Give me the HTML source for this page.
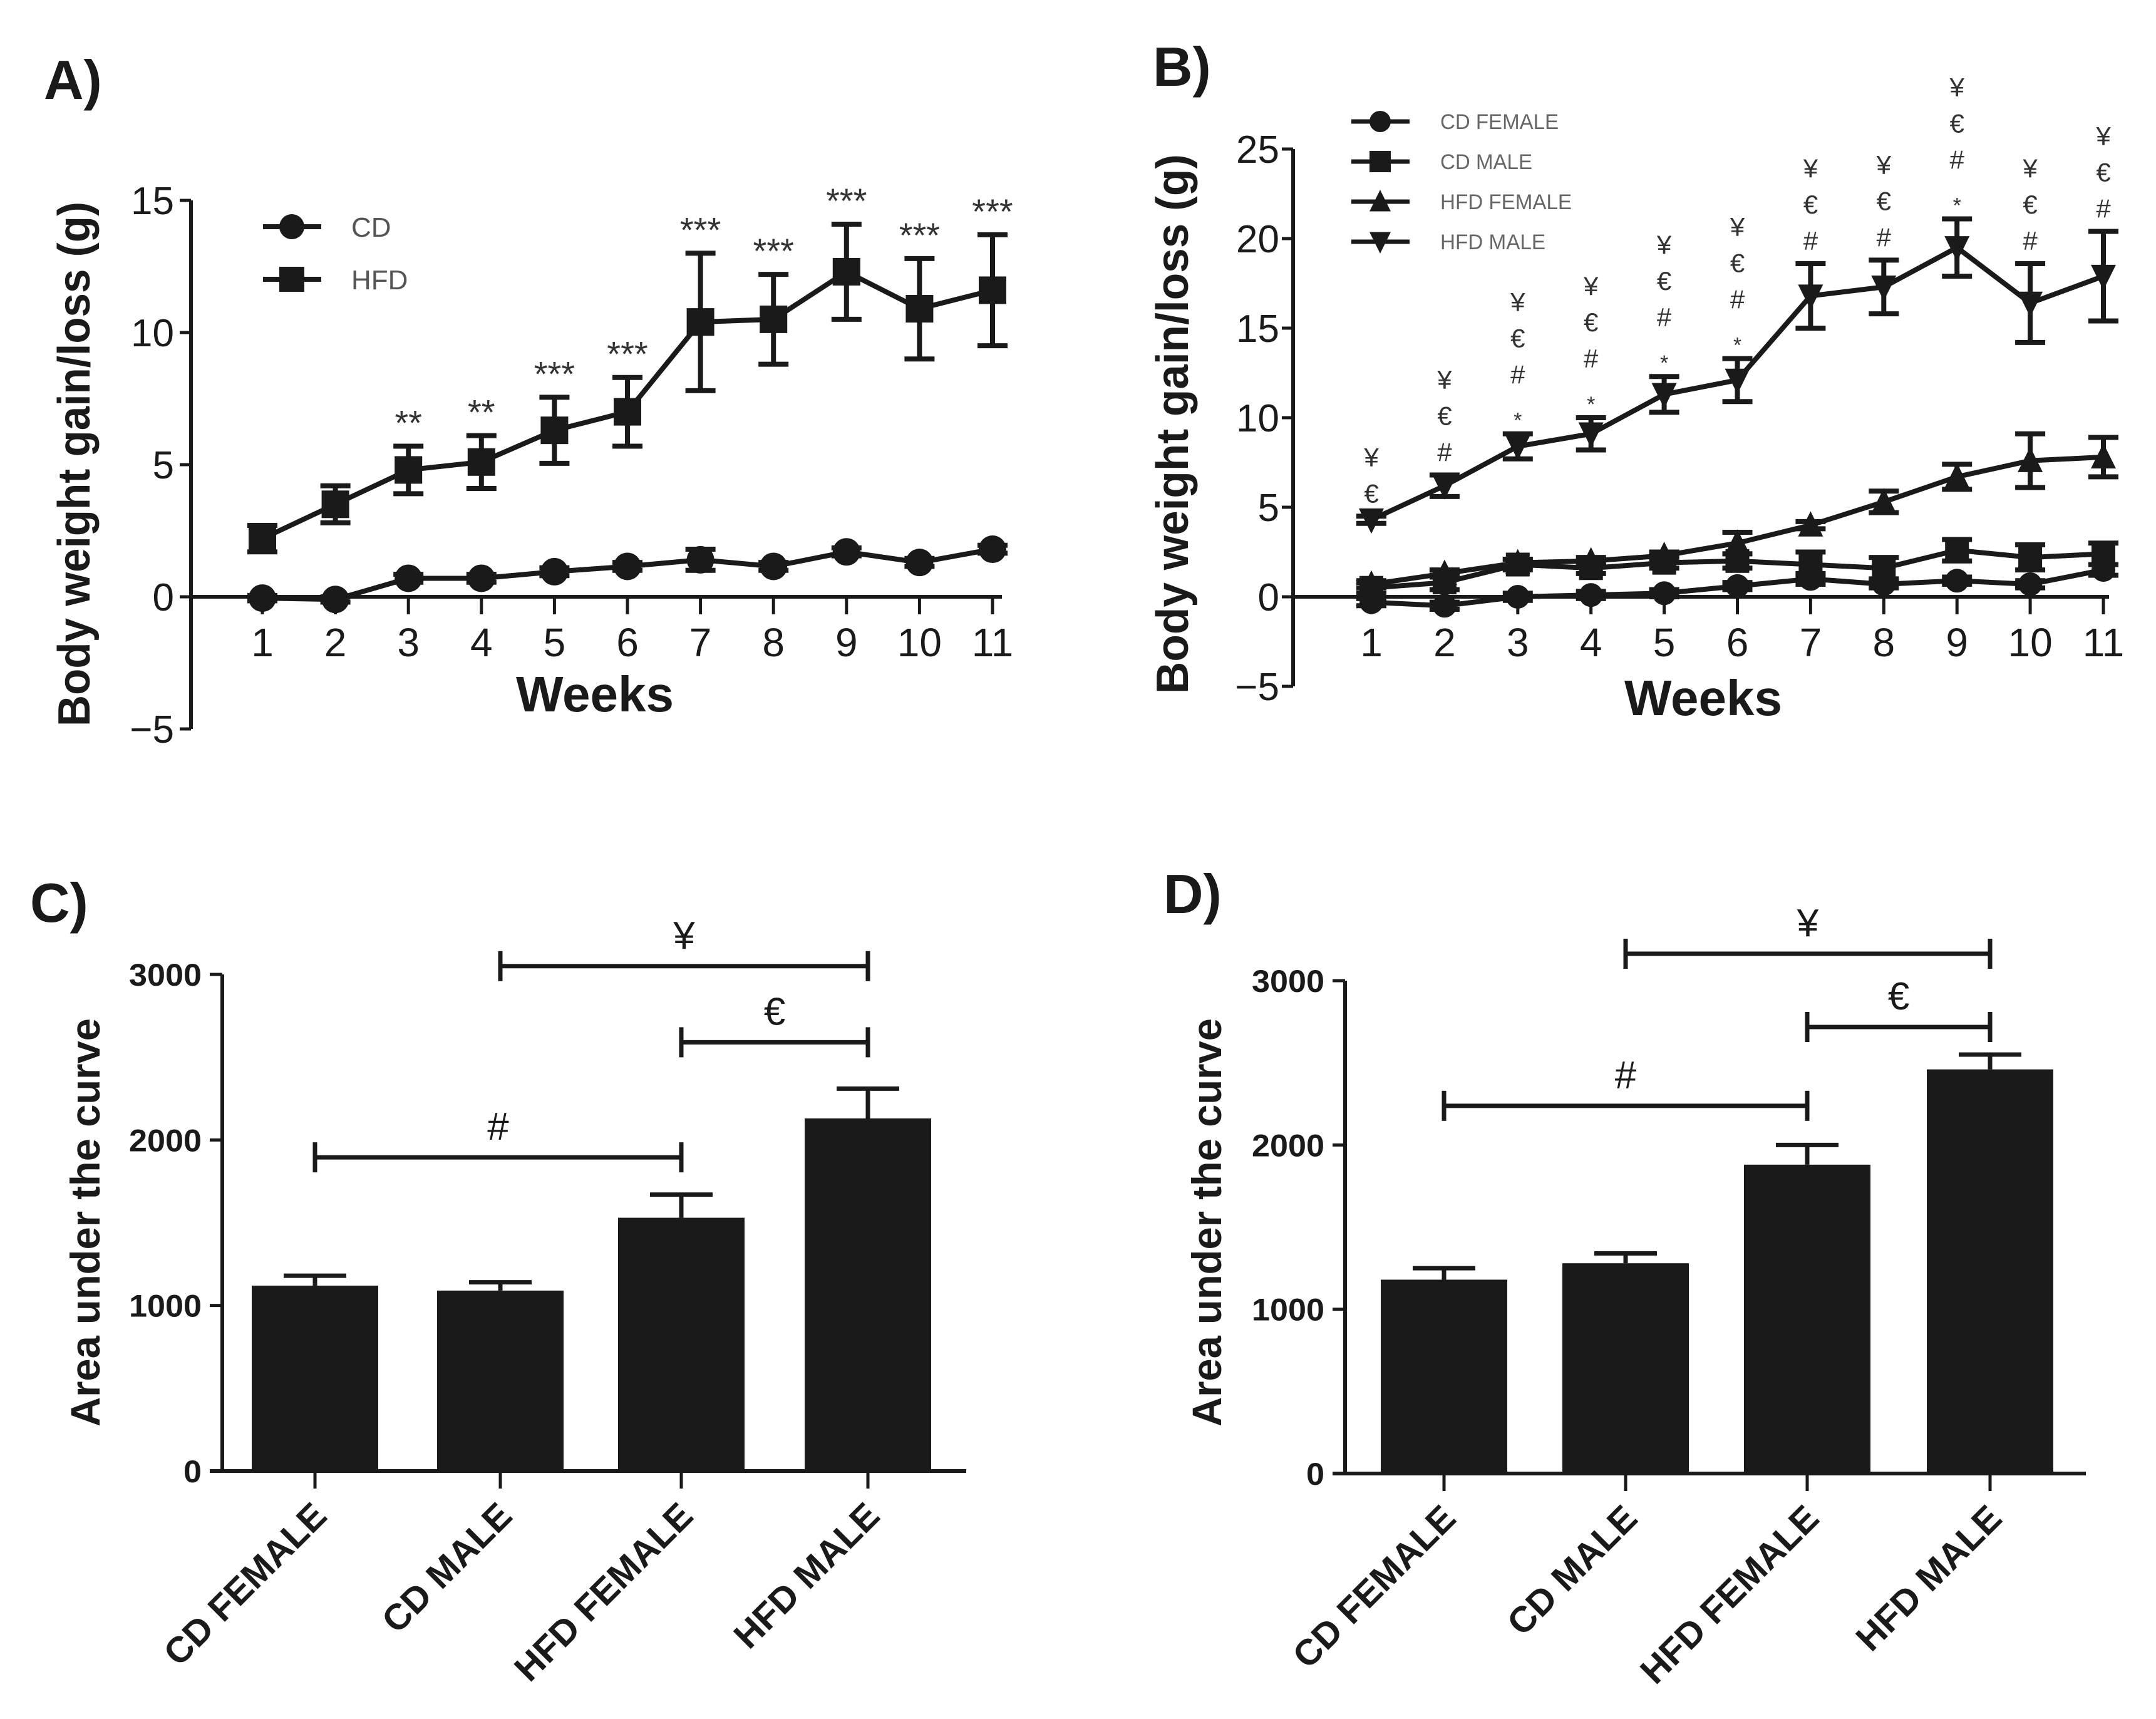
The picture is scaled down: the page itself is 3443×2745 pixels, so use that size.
<!DOCTYPE html>
<html><head><meta charset="utf-8"><style>
html,body{margin:0;padding:0;background:#fff}
svg{display:block}
text{font-family:"Liberation Sans",sans-serif}
</style></head><body>
<svg id="fig" width="3443" height="2745" viewBox="0 0 3443 2745" xmlns="http://www.w3.org/2000/svg">
<rect width="3443" height="2745" fill="#fff"/>
</svg>
<script>
// ---- Panel A data ----
const weeks = [1,2,3,4,5,6,7,8,9,10,11];
const aCD = [-0.05,-0.1,0.7,0.7,0.95,1.15,1.4,1.15,1.7,1.3,1.8];
const aCDerr = [0.1,0.1,0.15,0.15,0.15,0.15,0.4,0.15,0.15,0.15,0.15];
const aHFD = [2.2,3.5,4.8,5.1,6.3,7.0,10.4,10.5,12.3,10.9,11.6];
const aHFDerr = [0.5,0.7,0.9,1.0,1.25,1.3,2.6,1.7,1.8,1.9,2.1];
const aStars = ["","","**","**","***","***","***","***","***","***","***"];
const aYTicks = [-5,0,5,10,15];
// ---- Panel B data ----
const bCDF = [-0.3,-0.5,0,0.1,0.2,0.6,1.0,0.7,0.9,0.7,1.5];
const bCDFerr = [0.2,0.2,0.2,0.2,0.2,0.2,0.3,0.2,0.2,0.2,0.3];
const bCDM = [0.5,0.8,1.8,1.6,1.9,2.0,1.8,1.6,2.6,2.2,2.4];
const bCDMerr = [0.3,0.4,0.3,0.3,0.3,0.4,0.7,0.6,0.6,0.7,0.6];
const bHFF = [0.7,1.3,1.9,2.0,2.3,3.0,4.0,5.3,6.7,7.6,7.8];
const bHFFerr = [0.2,0.2,0.2,0.2,0.2,0.6,0.2,0.6,0.7,1.5,1.1];
const bHFM = [4.3,6.2,8.4,9.1,11.3,12.1,16.8,17.3,19.5,16.4,17.9];
const bHFMerr = [0.2,0.6,0.7,0.9,1.0,1.2,1.8,1.5,1.6,2.2,2.5];
const bAnn = [["¥","€"],["¥","€","#"],["¥","€","#","*"],["¥","€","#","*"],["¥","€","#","*"],["¥","€","#","*"],["¥","€","#"],["¥","€","#"],["¥","€","#","*"],["¥","€","#"],["¥","€","#"]];
const bYTicks = [-5,0,5,10,15,20,25];
// ---- Panels C / D data ----
const groups = ["CD FEMALE","CD MALE","HFD FEMALE","HFD MALE"];
const cVals = [1120,1090,1530,2130];
const cErr = [60,50,140,180];
const dVals = [1180,1280,1880,2460];
const dErr = [70,60,120,90];
const barTicks = [0,1000,2000,3000];
const cBrackets = [[0,2,"#",1895],[2,3,"€",2590],[1,3,"¥",3050]];
const dBrackets = [[0,2,"#",2238],[2,3,"€",2718],[1,3,"¥",3164]];

const svg = document.getElementById('fig');
const NS = 'http://www.w3.org/2000/svg';
function el(tag, attrs, parent, txt){
  const e = document.createElementNS(NS, tag);
  for (const k in attrs) e.setAttribute(k, attrs[k]);
  if (txt !== undefined) e.textContent = txt;
  (parent||svg).appendChild(e);
  return e;
}
function grp(name){
  const g = el('g', {}, svg);
  
  
  return g;
}
function marker(g, type, x, y, s){
  let m;
  if (type==='circle') m = el('circle',{cx:x,cy:y,r:s/2,fill:'#1a1a1a'},g);
  else if (type==='square') m = el('rect',{x:x-s/2,y:y-s/2,width:s,height:s,fill:'#1a1a1a'},g);
  else if (type==='up') m = el('polygon',{points:`${x-s/2},${y+s/2.2} ${x+s/2},${y+s/2.2} ${x},${y-s/1.8}`,fill:'#1a1a1a'},g);
  else m = el('polygon',{points:`${x-s/2},${y-s/2.2} ${x+s/2},${y-s/2.2} ${x},${y+s/1.8}`,fill:'#1a1a1a'},g);
  return m;
}

function linePanel(cfg){
  const {x0, xFirst, xStep, yZero, pxPer, ticks, tickRight, series, label, labelX, labelY, titleX, titleY, titleLen, weeksX, weeksY, xEnd, name} = cfg;
  const X = w => xFirst + (w-1)*xStep;
  const Y = v => yZero - v*pxPer;
  const g = grp(name);
  const ax = el('line',{x1:x0,y1:Y(ticks[0]),x2:x0,y2:Y(ticks[ticks.length-1]),stroke:'#1a1a1a','stroke-width':6},g);
  
  
  const xa = el('line',{x1:x0,y1:yZero,x2:xEnd,y2:yZero,stroke:'#1a1a1a','stroke-width':6},g);
  
  
  ticks.forEach(t=>{
    el('line',{x1:x0-18,y1:Y(t),x2:x0,y2:Y(t),stroke:'#1a1a1a','stroke-width':5},g);
    const tl = el('text',{x:tickRight,y:Y(t)+22,'text-anchor':'end','font-size':62,fill:'#1a1a1a'},g,(t<0?'\u2212'+(-t):String(t)));
    
    
  });
  weeks.forEach(w=>{
    el('line',{x1:X(w),y1:yZero,x2:X(w),y2:yZero+28,stroke:'#1a1a1a','stroke-width':5},g);
    const tl = el('text',{x:X(w),y:yZero+95,'text-anchor':'middle','font-size':64,fill:'#1a1a1a'},g,String(w));
    
    
  });
  const wl = el('text',{x:weeksX,y:weeksY,'text-anchor':'middle','font-size':80,'font-weight':'bold',fill:'#1a1a1a'},g,'Weeks');
  
  
  const yt = el('text',{x:0,y:0,'text-anchor':'middle','font-size':72,'font-weight':'bold',fill:'#1a1a1a',textLength:titleLen,lengthAdjust:'spacingAndGlyphs',transform:`translate(${titleX+25},${titleY}) rotate(-90)`},g,'Body weight gain/loss (g)');
  
  
  const pl = el('text',{x:labelX,y:labelY,'font-size':88,'font-weight':'bold',fill:'#1a1a1a'},g,label);
  
  
  series.forEach(s=>{
    const sg = el('g',{},g);
    
    
    const pts = s.vals.map((v,i)=>`${X(weeks[i])},${Y(v)}`).join(' ');
    el('polyline',{points:pts,fill:'none',stroke:'#1a1a1a','stroke-width':8},sg);
    s.vals.forEach((v,i)=>{
      const e = s.err[i], x = X(weeks[i]);
      el('line',{x1:x,y1:Y(v+e),x2:x,y2:Y(v-e),stroke:'#1a1a1a','stroke-width':8},sg);
      el('line',{x1:x-24,y1:Y(v+e),x2:x+24,y2:Y(v+e),stroke:'#1a1a1a','stroke-width':8},sg);
      el('line',{x1:x-24,y1:Y(v-e),x2:x+24,y2:Y(v-e),stroke:'#1a1a1a','stroke-width':8},sg);
      const m = marker(sg, s.type, x, Y(v), s.size);
      
      
    });
  });
  return {X, Y, g};
}

// Panel A
const A = linePanel({name:'panel-a-chart',x0:305,xFirst:419,xStep:116.6,yZero:953,pxPer:42.2,ticks:aYTicks,tickRight:278,
  series:[{name:'cd',vals:aCD,err:aCDerr,type:'circle',size:44},{name:'hfd',vals:aHFD,err:aHFDerr,type:'square',size:44}],
  label:'A)',labelX:70,labelY:158,titleX:118,titleY:741,titleLen:838,weeksX:950,weeksY:1136,xEnd:1600});
aStars.forEach((s,i)=>{
  if(!s) return;
  const t = el('text',{x:A.X(weeks[i]),y:A.Y(aHFD[i]+aHFDerr[i])-18,'text-anchor':'middle','font-size':56,fill:'#333'},A.g,s);
  
  
});
[['CD','circle',362],['HFD','square',446]].forEach(r=>{
  const lg = el('g',{},A.g);
  
  
  el('line',{x1:420,y1:r[2],x2:513,y2:r[2],stroke:'#1a1a1a','stroke-width':8},lg);
  marker(lg,r[1],466,r[2],40);
  el('text',{x:561,y:r[2]+16,'font-size':44,fill:'#555'},lg,r[0]);
});

// Panel B
const B = linePanel({name:'panel-b-chart',x0:2065,xFirst:2190,xStep:116.9,yZero:953,pxPer:28.6,ticks:bYTicks,tickRight:2043,
  series:[{name:'cd-female',vals:bCDF,err:bCDFerr,type:'circle',size:38},{name:'cd-male',vals:bCDM,err:bCDMerr,type:'square',size:38},
          {name:'hfd-female',vals:bHFF,err:bHFFerr,type:'up',size:40},{name:'hfd-male',vals:bHFM,err:bHFMerr,type:'down',size:40}],
  label:'B)',labelX:1841,labelY:137,titleX:1872,titleY:677,titleLen:862,weeksX:2720,weeksY:1142,xEnd:3368});
bAnn.forEach((arr,i)=>{
  const top = B.Y(bHFM[i]+bHFMerr[i]) - 22;
  arr.slice().reverse().forEach((s,j)=>{
    const t = el('text',{x:B.X(weeks[i]),y:top - j*58 + (s==='*'?12:0),'text-anchor':'middle','font-size':s==='*'?34:42,fill:'#333'},B.g,s);
    
    
  });
});
[['CD FEMALE','circle',194],['CD MALE','square',258],['HFD FEMALE','up',322],['HFD MALE','down',386]].forEach(r=>{
  const lg = el('g',{},B.g);
  
  
  el('line',{x1:2158,y1:r[2],x2:2251,y2:r[2],stroke:'#1a1a1a','stroke-width':7},lg);
  marker(lg,r[1],2204,r[2],34);
  el('text',{x:2300,y:r[2]+12,'font-size':34,fill:'#666',textLength:r[0].length*21,lengthAdjust:'spacingAndGlyphs'},lg,r[0]);
});

// Bar panels
function barPanel(cfg){
  const {name,x0,xEnd,cats,yZero,yTop,vals,err,brackets,label,labelX,labelY,titleX,titleY,tickRight} = cfg;
  const Y = v => yZero - v*(yZero-yTop)/3000;
  const g = grp(name);
  const ya = el('line',{x1:x0,y1:yZero,x2:x0,y2:yTop,stroke:'#1a1a1a','stroke-width':6},g);
  
  
  const xa = el('line',{x1:x0-20,y1:yZero,x2:xEnd,y2:yZero,stroke:'#1a1a1a','stroke-width':6},g);
  
  
  barTicks.forEach(t=>{
    el('line',{x1:x0-20,y1:Y(t),x2:x0,y2:Y(t),stroke:'#1a1a1a','stroke-width':5},g);
    const tl = el('text',{x:tickRight,y:Y(t)+18,'text-anchor':'end','font-size':50,'font-weight':'bold',fill:'#1a1a1a',textLength:String(t).length*29,lengthAdjust:'spacingAndGlyphs'},g,String(t));
    
    
  });
  vals.forEach((v,i)=>{
    const x = cats[i];
    const e = err[i];
    el('line',{x1:x,y1:Y(v),x2:x,y2:Y(v+e),stroke:'#1a1a1a','stroke-width':7},g);
    el('line',{x1:x-50,y1:Y(v+e),x2:x+50,y2:Y(v+e),stroke:'#1a1a1a','stroke-width':7},g);
    const b = el('rect',{x:x-101,y:Y(v),width:202,height:yZero-Y(v),fill:'#1a1a1a'},g);
    
    
    el('line',{x1:x,y1:yZero,x2:x,y2:yZero+28,stroke:'#1a1a1a','stroke-width':5},g);
    const tl = el('text',{x:0,y:0,'text-anchor':'end','font-size':58,'font-weight':'bold',fill:'#1a1a1a',transform:`translate(${x+22},${yZero+75}) rotate(-45)`},g,groups[i]);
    
    
  });
  brackets.forEach(br=>{
    const bg = el('g',{},g);
    
    
    const x1 = cats[br[0]], x2 = cats[br[1]], y = Y(br[3]);
    el('line',{x1:x1,y1:y,x2:x2,y2:y,stroke:'#1a1a1a','stroke-width':7},bg);
    el('line',{x1:x1,y1:y-24,x2:x1,y2:y+24,stroke:'#1a1a1a','stroke-width':7},bg);
    el('line',{x1:x2,y1:y-24,x2:x2,y2:y+24,stroke:'#1a1a1a','stroke-width':7},bg);
    el('text',{x:(x1+x2)/2,y:y-28,'text-anchor':'middle','font-size':62,fill:'#1a1a1a'},bg,br[2]);
  });
  const yt = el('text',{x:0,y:0,'text-anchor':'middle','font-size':66,'font-weight':'bold',fill:'#1a1a1a',textLength:652,lengthAdjust:'spacingAndGlyphs',transform:`translate(${titleX+24},${titleY}) rotate(-90)`},g,'Area under the curve');
  
  
  const pl = el('text',{x:labelX,y:labelY,'font-size':88,'font-weight':'bold',fill:'#1a1a1a'},g,label);
  
  
}
barPanel({name:'panel-c-chart',x0:355,xEnd:1543,cats:[503,799,1088,1386],yZero:2349,yTop:1556,vals:cVals,err:cErr,brackets:cBrackets,label:'C)',labelX:48,labelY:1472,titleX:135,titleY:1952,tickRight:322});
barPanel({name:'panel-d-chart',x0:2148,xEnd:3331,cats:[2306,2596,2886,3178],yZero:2353,yTop:1566,vals:dVals,err:dErr,brackets:dBrackets,label:'D)',labelX:1858,labelY:1458,titleX:1926,titleY:1952,tickRight:2115});
</script>
</body></html>
